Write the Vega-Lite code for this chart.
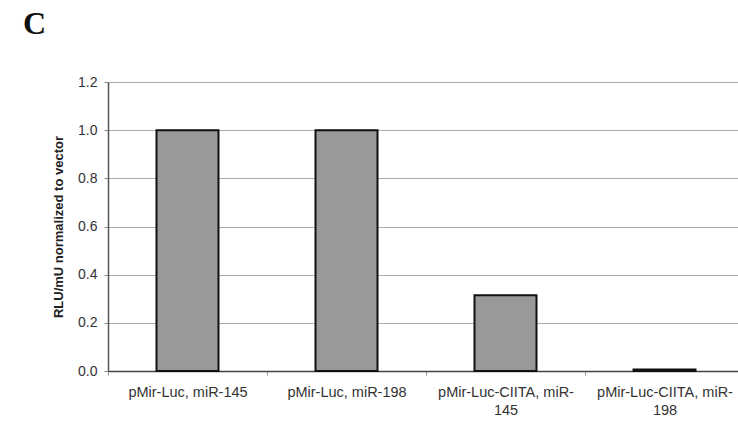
{
  "$schema": "https://vega.github.io/schema/vega-lite/v6.json",
  "autosize": "none",
  "padding": {"left": 108, "top": 82, "right": 0, "bottom": 52},
  "width": 636,
  "height": 289,
  "background": "white",
  "title": {
    "text": "C",
    "anchor": "start",
    "frame": "group",
    "font": "Liberation Serif",
    "fontSize": 32,
    "fontWeight": "bold",
    "color": "#111111",
    "dx": -85,
    "dy": -34,
    "baseline": "top",
    "offset": 0
  },
  "data": {
    "values": [
      {"construct": "pMir-Luc, miR-145", "value": 1.0},
      {"construct": "pMir-Luc, miR-198", "value": 1.0},
      {"construct": "pMir-Luc-CIITA, miR-145", "value": 0.315},
      {"construct": "pMir-Luc-CIITA, miR-198", "value": 0.006}
    ]
  },
  "mark": {"type": "bar", "fill": "#999999", "stroke": "#111111", "strokeWidth": 2, "width": 62},
  "encoding": {
    "x": {
      "field": "construct",
      "type": "nominal",
      "sort": null,
      "scale": {"paddingInner": 0, "paddingOuter": 0},
      "axis": {
        "title": null,
        "labelAngle": 0,
        "labelFont": "Liberation Sans",
        "labelFontSize": 14.5,
        "labelColor": "#333333",
        "labelPadding": 10,
        "labelLineHeight": 18,
        "labelExpr": "length(datum.label) > 20 ? [substring(datum.label, 0, 20), substring(datum.label, 20)] : datum.label",
        "domainColor": "#444444",
        "domainWidth": 1.5,
        "tickBand": "extent",
        "tickColor": "#999999",
        "tickSize": 4,
        "grid": false
      }
    },
    "y": {
      "field": "value",
      "type": "quantitative",
      "scale": {"domain": [0, 1.2], "nice": false},
      "axis": {
        "title": "RLU/mU normalized to vector",
        "titleFont": "Liberation Sans",
        "titleFontSize": 13,
        "titleFontWeight": "bold",
        "titleColor": "#222222",
        "titlePadding": 12,
        "values": [0, 0.2, 0.4, 0.6, 0.8, 1.0, 1.2],
        "format": ".1f",
        "labelFont": "Liberation Sans",
        "labelFontSize": 14,
        "labelColor": "#333333",
        "labelPadding": 7,
        "tickSize": 4,
        "tickColor": "#888888",
        "domainColor": "#555555",
        "domainWidth": 1.5,
        "grid": true,
        "gridColor": "#aaaaaa",
        "gridWidth": 1.2
      }
    }
  },
  "config": {"view": {"stroke": null}}
}
